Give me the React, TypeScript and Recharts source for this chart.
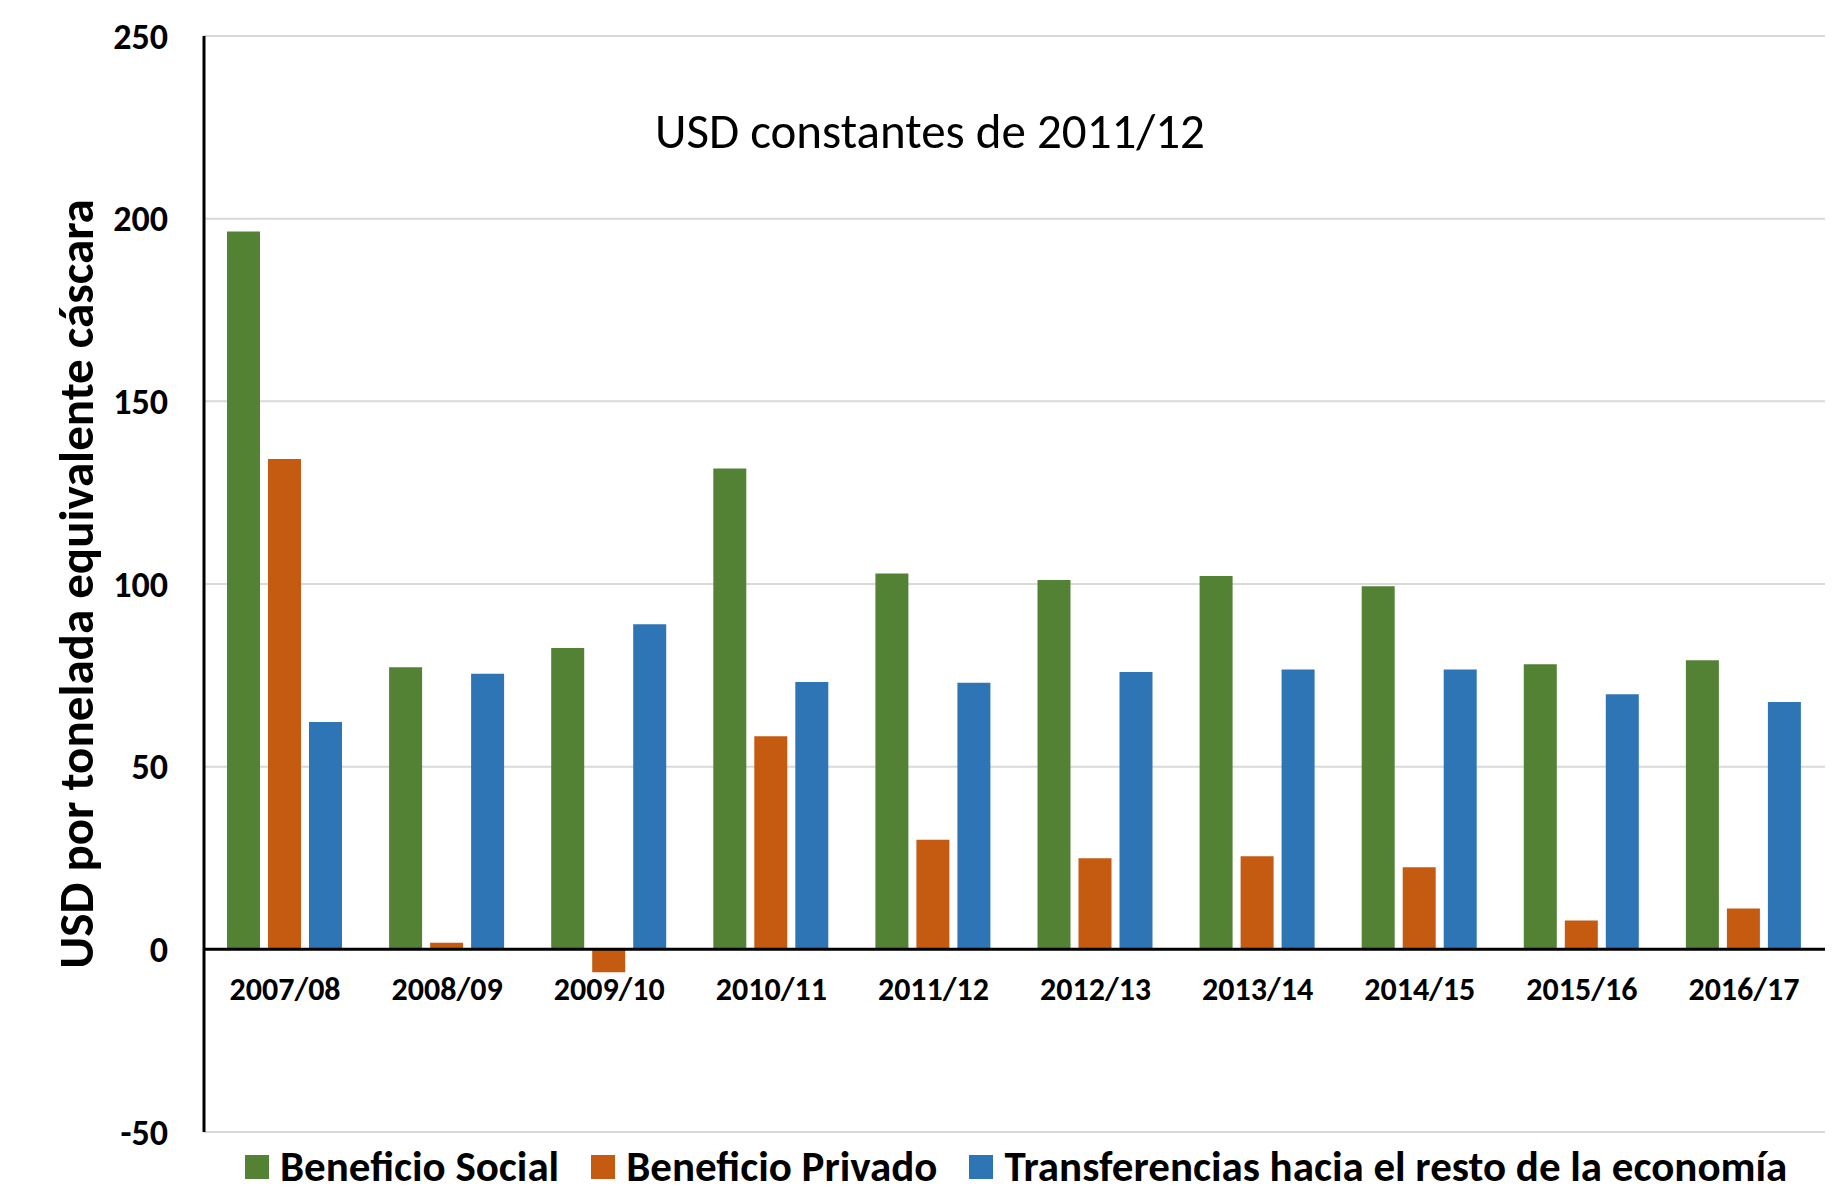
import React from "react";
import {
  BarChart,
  Bar,
  XAxis,
  YAxis,
  CartesianGrid,
  ReferenceLine,
  Legend,
} from "recharts";

const FONT = "Carlito, Calibri, 'Liberation Sans Narrow', 'Open Sans', sans-serif";

const years = [
  "2007/08",
  "2008/09",
  "2009/10",
  "2010/11",
  "2011/12",
  "2012/13",
  "2013/14",
  "2014/15",
  "2015/16",
  "2016/17",
];

const beneficioSocial = [196.5, 77.2, 82.5, 131.6, 102.9, 101.1, 102.2, 99.4, 78.0, 79.1];
const beneficioPrivado = [134.2, 1.8, -6.3, 58.3, 30.0, 24.9, 25.5, 22.5, 7.9, 11.2];
const transferencias = [62.2, 75.4, 89.0, 73.2, 73.0, 75.9, 76.6, 76.6, 69.8, 67.7];

const yTicks = [-50, 0, 50, 100, 150, 200, 250];

const seriesNames = [
  "Beneficio Social",
  "Beneficio Privado",
  "Transferencias hacia el resto de la economía",
];
const seriesColors = ["#548235", "#C55A11", "#2E75B6"];

const data = years.map((year, i) => ({
  year,
  social: beneficioSocial[i],
  privado: beneficioPrivado[i],
  transfer: transferencias[i],
}));

// x labels sit just under the zero line instead of the bottom of the plot
const X_LABEL_SHIFT = -151;

const renderYearTick = (props: any) => {
  const { x, y, payload } = props;
  return (
    <text
      x={x}
      y={Number(y) + X_LABEL_SHIFT}
      textAnchor="middle"
      dominantBaseline="central"
      fill="#000"
      fontFamily={FONT}
      fontWeight={700}
      fontSize={32}
    >
      {payload?.value}
    </text>
  );
};

function YLabel({ viewBox }: any) {
  const cy = viewBox ? viewBox.y + viewBox.height / 2 : 584;
  const cx = 76;
  return (
    <text
      x={cx}
      y={cy}
      transform={`rotate(-90, ${cx}, ${cy})`}
      textAnchor="middle"
      dominantBaseline="central"
      fill="#000"
      fontFamily={FONT}
      fontWeight={700}
      fontSize={49}
    >
      USD por tonelada equivalente cáscara
    </text>
  );
}

function LegendContent() {
  return (
    <div
      style={{
        display: "flex",
        alignItems: "center",
        fontFamily: FONT,
        fontWeight: 700,
        fontSize: 43,
        lineHeight: "43px",
        color: "#000",
        whiteSpace: "nowrap",
      }}
    >
      {seriesNames.map((name, i) => (
        <div
          key={name}
          style={{ display: "flex", alignItems: "center", marginRight: 32 }}
        >
          <span
            style={{
              display: "inline-block",
              width: 24,
              height: 24,
              background: seriesColors[i],
              marginRight: 11,
            }}
          />
          <span>{name}</span>
        </div>
      ))}
    </div>
  );
}

export default function App() {
  return (
    <div
      style={{
        position: "absolute",
        left: 0,
        top: 0,
        width: 1839,
        height: 1190,
        background: "#fff",
      }}
    >
      <div
        style={{
          position: "absolute",
          left: 930,
          top: 131,
          transform: "translate(-50%, -50%)",
          fontFamily: FONT,
          fontSize: 49,
          color: "#000",
          whiteSpace: "nowrap",
          zIndex: 2,
        }}
      >
        USD constantes de 2011/12
      </div>
      <BarChart
        width={1839}
        height={1190}
        data={data}
        margin={{ top: 36, right: 14, bottom: 28, left: 0 }}
        barCategoryGap={23}
        barGap={8}
      >
        <CartesianGrid vertical={false} stroke="#d9d9d9" strokeWidth={2} />
        <XAxis
          dataKey="year"
          axisLine={false}
          tickLine={false}
          height={30}
          interval={0}
          tick={renderYearTick}
        />
        <YAxis
          domain={[-50, 250]}
          ticks={yTicks}
          interval={0}
          width={204}
          axisLine={{ stroke: "#000", strokeWidth: 3 }}
          tickLine={false}
          tickMargin={30}
          tick={{ fill: "#000", fontFamily: FONT, fontWeight: 700, fontSize: 36 }}
          label={<YLabel />}
        />
        <ReferenceLine y={0} stroke="#000" strokeWidth={3} />
        <Legend
          verticalAlign="middle"
          content={<LegendContent />}
          wrapperStyle={{ position: "absolute", left: 245, top: 1145, width: 1590 }}
        />
        <Bar dataKey="social" name={seriesNames[0]} fill={seriesColors[0]} isAnimationActive={false} />
        <Bar dataKey="privado" name={seriesNames[1]} fill={seriesColors[1]} isAnimationActive={false} />
        <Bar dataKey="transfer" name={seriesNames[2]} fill={seriesColors[2]} isAnimationActive={false} />
      </BarChart>
    </div>
  );
}
